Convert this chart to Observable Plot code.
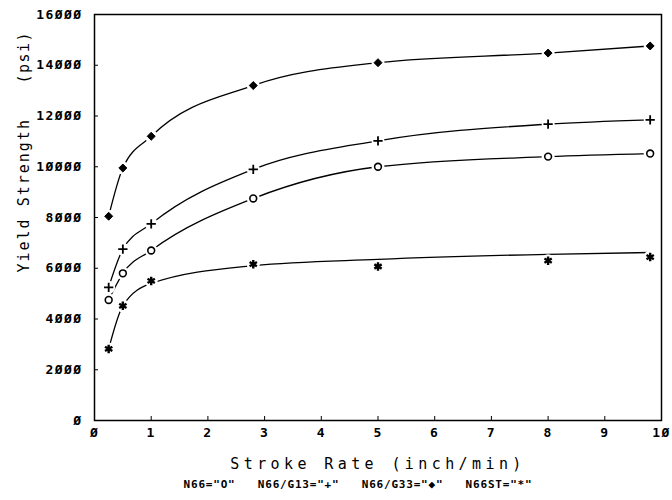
<!DOCTYPE html>
<html>
<head>
<meta charset="utf-8">
<script src="https://cdn.jsdelivr.net/npm/d3@7"></script>
<script src="https://cdn.jsdelivr.net/npm/@observablehq/plot@0.6"></script>
<style>
  body { margin: 0; background: white; }
  g[aria-label="y-axis tick label"] text, g[aria-label="x-axis tick label"] text { letter-spacing: 1.4px; }
</style>
</head>
<body>
<div id="chart"></div>
<script>
// Stroke rate (inch/min)
const strokeRate = [0.25, 0.5, 1, 2.8, 5, 8, 9.8];
// Yield strength (psi) per material
const seriesNames = ["N66", "N66/G13", "N66/G33", "N66ST"];
const n66    = [4750, 5800, 6700, 8750, 10000, 10400, 10520];
const n66g13 = [5250, 6750, 7750, 9900, 11020, 11680, 11850];
const n66g33 = [8050, 9950, 11200, 13200, 14100, 14480, 14760];
const n66st  = [2820, 4520, 5500, 6160, 6070, 6300, 6440];
// drawn fitted curve for N66ST (passes off the points)
const n66stCurve = [2820, 4520, 5400, 6100, 6350, 6550, 6620];
const symbols = ["circle", "plus", "diamond2", "asterisk"];
const xTicks = [0, 1, 2, 3, 4, 5, 6, 7, 8, 9, 10];
const yTicks = [0, 2000, 4000, 6000, 8000, 10000, 12000, 14000, 16000];
const xLabel = "Stroke Rate (inch/min)";
const yLabel1 = "Yield Strength";
const yLabel2 = "(psi)";
const legendText = 'N66="O"   N66/G13="+"   N66/G33="◆"   N66ST="*"';

const values = [n66, n66g13, n66g33, n66st];
const curves = [n66, n66g13, n66g33, n66stCurve];
const points = [];
const lines = [];
seriesNames.forEach((s, i) => {
  strokeRate.forEach((x, j) => {
    points.push({series: s, x, y: values[i][j], symbol: symbols[i]});
    lines.push({series: s, x, y: curves[i][j]});
  });
});
const fmt = d => String(d).replace(/0/g, "Ø");

const font = "DejaVu Sans Mono";
const chart = Plot.plot({
  width: 672,
  height: 500,
  marginTop: 14,
  marginLeft: 94,
  marginRight: 11,
  marginBottom: 80,
  style: {fontFamily: font, background: "white", color: "black"},
  x: {domain: [0, 10], axis: null},
  y: {domain: [0, 16000], axis: null},
  marks: [
    Plot.line(lines, {x: "x", y: "y", z: "series", curve: "monotone-x", stroke: "black", strokeWidth: 1.3}),
    Plot.dot(points, {x: "x", y: "y", r: 6.5, fill: "white", stroke: null}),
    Plot.dot(points.filter(d => d.symbol === "circle"), {x: "x", y: "y", symbol: "circle", r: 3.4, fill: "none", stroke: "black", strokeWidth: 1.6}),
    Plot.dot(points.filter(d => d.symbol === "plus"), {x: "x", y: "y", symbol: "plus", r: 3.1, fill: "none", stroke: "black", strokeWidth: 1.8}),
    Plot.dot(points.filter(d => d.symbol === "diamond2"), {x: "x", y: "y", symbol: "diamond2", r: 3.6, fill: "black", stroke: "black", strokeWidth: 1}),
    Plot.dot(points.filter(d => d.symbol === "asterisk"), {x: "x", y: "y", symbol: "asterisk", r: 4, fill: "none", stroke: "black", strokeWidth: 2.4}),
    Plot.frame({stroke: "black", strokeWidth: 1.5}),
    Plot.axisX({ticks: xTicks, tickSize: -4, fill: "none", stroke: "black"}),
    Plot.axisY({ticks: yTicks, tickSize: -4, fill: "none", stroke: "black"}),
    Plot.axisX({ticks: xTicks, tickSize: 0, tickPadding: 7, tickFormat: fmt, label: null, fontSize: 13, fontWeight: "bold"}),
    Plot.axisY({ticks: yTicks, tickSize: 0, tickPadding: 12, tickFormat: fmt, label: null, fontSize: 13, fontWeight: "bold"}),
    Plot.text([xLabel], {frameAnchor: "bottom", dy: 48, fontSize: 15, text: d => d, fill: "black"}),
    Plot.text([legendText], {frameAnchor: "bottom", dy: 67, fontSize: 11, fontWeight: "bold", text: d => d, fill: "black", dx: -20}),
    Plot.text([yLabel1], {frameAnchor: "left", rotate: -90, dx: -70, dy: 55, fontSize: 15, text: d => d, fill: "black"}),
    Plot.text([yLabel2], {frameAnchor: "left", rotate: -90, dx: -70, dy: -134, fontSize: 15, text: d => d, fill: "black"})
  ]
});
const spacing = new Map([[xLabel, "4.4px"], [yLabel1, "2px"], [yLabel2, "1.5px"], [legendText, "0.8px"]]);
d3.select(chart).selectAll("text").each(function () {
  const s = spacing.get(this.textContent);
  if (s) this.style.letterSpacing = s;
});
document.getElementById("chart").appendChild(chart);
</script>
</body>
</html>
